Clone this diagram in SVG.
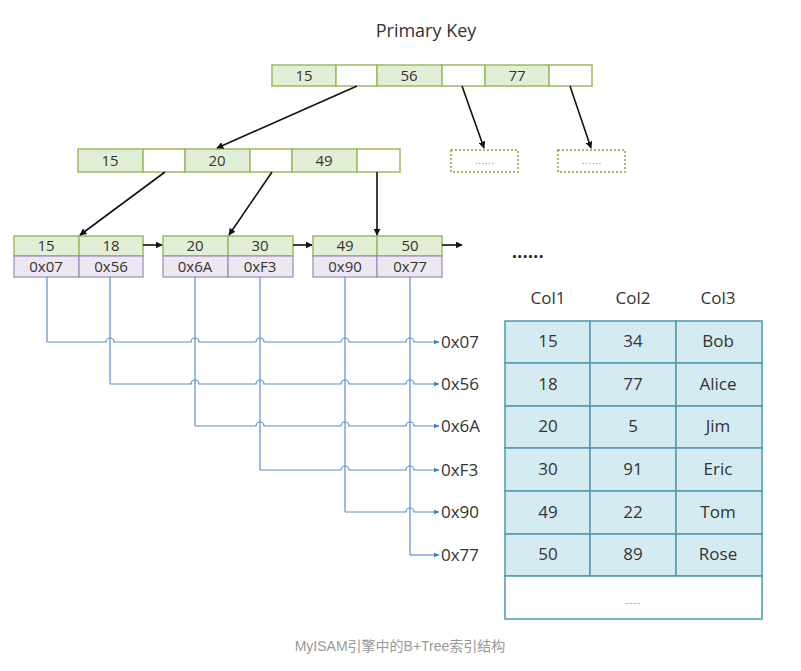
<svg xmlns="http://www.w3.org/2000/svg" width="801" height="671" viewBox="0 0 801 671">
<defs>
<marker id="ah" viewBox="0 0 10 10" refX="9" refY="5" markerWidth="7" markerHeight="7" markerUnits="userSpaceOnUse" orient="auto"><path d="M0,0 L10,5 L0,10 z" fill="#111"/></marker>
<marker id="ab" viewBox="0 0 10 10" refX="9" refY="5" markerWidth="6" markerHeight="6" markerUnits="userSpaceOnUse" orient="auto"><path d="M0,1 L10,5 L0,9 z" fill="#3f7fc0"/></marker>
<style>
text{font-family:"Open Sans","Liberation Sans",sans-serif;fill:#333;}
.k{fill:#e3eed6;stroke:#9cbb62;stroke-width:1.5}
.e{fill:#fff;stroke:#9cbb62;stroke-width:1.5}
.p{fill:#ede7f2;stroke:#9a8bbd;stroke-width:1.2}
.d{fill:#fff;stroke:#9cbb62;stroke-width:2;stroke-dasharray:2 2}
.t{font-size:15px;text-anchor:middle}
.a{stroke:#111;stroke-width:1.6;fill:none;marker-end:url(#ah)}
.b{stroke:#5b8fc9;stroke-width:1.2;fill:none}
.c{fill:#d5ebf2;stroke:#4e9ab0;stroke-width:1.5}
.px{font-size:17px}
.dd{font-size:9px;fill:#777;text-anchor:middle;letter-spacing:1px}
</style>
</defs>
<rect width="801" height="671" fill="#fff"/>
<text x="426" y="37" style="font-size:18px;text-anchor:middle">Primary Key</text>

<g id="root">
<rect class="k" x="272" y="65" width="64" height="21"/>
<rect class="e" x="336" y="65" width="41" height="21"/>
<rect class="k" x="377" y="65" width="65" height="21"/>
<rect class="e" x="442" y="65" width="43" height="21"/>
<rect class="k" x="485" y="65" width="64" height="21"/>
<rect class="e" x="549" y="65" width="43" height="21"/>
<text class="t" x="304" y="81">15</text>
<text class="t" x="409" y="81">56</text>
<text class="t" x="517" y="81">77</text>
</g>

<g id="inner">
<rect class="k" x="78" y="149" width="65" height="23"/>
<rect class="e" x="143" y="149" width="42" height="23"/>
<rect class="k" x="185" y="149" width="65" height="23"/>
<rect class="e" x="250" y="149" width="42" height="23"/>
<rect class="k" x="292" y="149" width="65" height="23"/>
<rect class="e" x="357" y="149" width="43" height="23"/>
<text class="t" x="110" y="166">15</text>
<text class="t" x="217" y="166">20</text>
<text class="t" x="324" y="166">49</text>
</g>

<g id="dash1">
<rect class="d" x="451" y="150" width="67" height="22"/>
<text class="dd" x="485" y="164">......</text>
</g>
<g id="dash2">
<rect class="d" x="558" y="150" width="67" height="22"/>
<text class="dd" x="592" y="164">......</text>
</g>

<g id="leaf1">
<rect class="k" x="14" y="236" width="65" height="20"/>
<rect class="k" x="79" y="236" width="64" height="20"/>
<rect class="p" x="14" y="256" width="65" height="21"/>
<rect class="p" x="79" y="256" width="64" height="21"/>
<text class="t" x="46" y="251">15</text>
<text class="t" x="111" y="251">18</text>
<text class="t" x="46" y="272">0x07</text>
<text class="t" x="111" y="272">0x56</text>
</g>
<g id="leaf2">
<rect class="k" x="163" y="236" width="65" height="20"/>
<rect class="k" x="228" y="236" width="65" height="20"/>
<rect class="p" x="163" y="256" width="65" height="21"/>
<rect class="p" x="228" y="256" width="65" height="21"/>
<text class="t" x="195" y="251">20</text>
<text class="t" x="260" y="251">30</text>
<text class="t" x="195" y="272">0x6A</text>
<text class="t" x="260" y="272">0xF3</text>
</g>
<g id="leaf3">
<rect class="k" x="313" y="236" width="64" height="20"/>
<rect class="k" x="377" y="236" width="65" height="20"/>
<rect class="p" x="313" y="256" width="64" height="21"/>
<rect class="p" x="377" y="256" width="65" height="21"/>
<text class="t" x="345" y="251">49</text>
<text class="t" x="410" y="251">50</text>
<text class="t" x="345" y="272">0x90</text>
<text class="t" x="410" y="272">0x77</text>
</g>

<text x="528" y="258" style="font-size:17px;font-weight:bold;text-anchor:middle;fill:#222;letter-spacing:0.5px">......</text>

<g id="connectors">
<line class="a" x1="357" y1="86" x2="217" y2="148"/>
<line class="a" x1="462" y1="86" x2="484" y2="148"/>
<line class="a" x1="570" y1="86" x2="591" y2="148"/>
<line class="a" x1="165" y1="172" x2="80" y2="235"/>
<line class="a" x1="272" y1="172" x2="229" y2="235"/>
<line class="a" x1="377" y1="172" x2="377" y2="235"/>
<line class="a" x1="143" y1="245" x2="162" y2="245"/>
<line class="a" x1="293" y1="245" x2="312" y2="245"/>
<line class="a" x1="442" y1="245" x2="462" y2="245"/>

<path class="b" d="M47,277 V342"/>
<path class="b" d="M110,277 V384"/>
<path class="b" d="M195,277 V426"/>
<path class="b" d="M260,277 V470"/>
<path class="b" d="M345,277 V512"/>
<path class="b" d="M410,277 V555"/>
<path class="b" marker-end="url(#ab)" d="M47,342 H106 a4,4 0 0 1 8,0 H191 a4,4 0 0 1 8,0 H256 a4,4 0 0 1 8,0 H341 a4,4 0 0 1 8,0 H406 a4,4 0 0 1 8,0 H439"/>
<path class="b" marker-end="url(#ab)" d="M110,384 H191 a4,4 0 0 1 8,0 H256 a4,4 0 0 1 8,0 H341 a4,4 0 0 1 8,0 H406 a4,4 0 0 1 8,0 H439"/>
<path class="b" marker-end="url(#ab)" d="M195,426 H256 a4,4 0 0 1 8,0 H341 a4,4 0 0 1 8,0 H406 a4,4 0 0 1 8,0 H439"/>
<path class="b" marker-end="url(#ab)" d="M260,470 H341 a4,4 0 0 1 8,0 H406 a4,4 0 0 1 8,0 H439"/>
<path class="b" marker-end="url(#ab)" d="M345,512 H406 a4,4 0 0 1 8,0 H439"/>
<path class="b" marker-end="url(#ab)" d="M410,555 H439"/>
</g>

<g id="addrs">
<text class="px" x="441" y="348">0x07</text>
<text class="px" x="441" y="390">0x56</text>
<text class="px" x="441" y="432">0x6A</text>
<text class="px" x="441" y="476">0xF3</text>
<text class="px" x="441" y="518">0x90</text>
<text class="px" x="441" y="561">0x77</text>
</g>

<g id="table">
<text class="px" x="548" y="304" text-anchor="middle">Col1</text>
<text class="px" x="633" y="304" text-anchor="middle">Col2</text>
<text class="px" x="718" y="304" text-anchor="middle">Col3</text>
<rect class="c" x="505" y="321" width="85" height="42"/>
<rect class="c" x="590" y="321" width="86" height="42"/>
<rect class="c" x="676" y="321" width="86" height="42"/>
<rect class="c" x="505" y="363" width="85" height="43"/>
<rect class="c" x="590" y="363" width="86" height="43"/>
<rect class="c" x="676" y="363" width="86" height="43"/>
<rect class="c" x="505" y="406" width="85" height="42"/>
<rect class="c" x="590" y="406" width="86" height="42"/>
<rect class="c" x="676" y="406" width="86" height="42"/>
<rect class="c" x="505" y="448" width="85" height="43"/>
<rect class="c" x="590" y="448" width="86" height="43"/>
<rect class="c" x="676" y="448" width="86" height="43"/>
<rect class="c" x="505" y="491" width="85" height="43"/>
<rect class="c" x="590" y="491" width="86" height="43"/>
<rect class="c" x="676" y="491" width="86" height="43"/>
<rect class="c" x="505" y="534" width="85" height="42"/>
<rect class="c" x="590" y="534" width="86" height="42"/>
<rect class="c" x="676" y="534" width="86" height="42"/>
<rect x="505" y="576" width="257" height="43" fill="#fff" stroke="#4e9ab0" stroke-width="1.5"/>
<g class="px" text-anchor="middle">
<text x="548" y="347">15</text><text x="633" y="347">34</text><text x="718" y="347">Bob</text>
<text x="548" y="390">18</text><text x="633" y="390">77</text><text x="718" y="390">Alice</text>
<text x="548" y="432">20</text><text x="633" y="432">5</text><text x="718" y="432">Jim</text>
<text x="548" y="475">30</text><text x="633" y="475">91</text><text x="718" y="475">Eric</text>
<text x="548" y="518">49</text><text x="633" y="518">22</text><text x="718" y="518">Tom</text>
<text x="548" y="560">50</text><text x="633" y="560">89</text><text x="718" y="560">Rose</text>
</g>
<text x="633" y="604" style="font-size:8px;text-anchor:middle;fill:#555;letter-spacing:0.5px">......</text>
</g>

<text x="400" y="651" style="font-family:'Liberation Sans','Noto Sans CJK SC',sans-serif;font-size:14px;fill:#999;text-anchor:middle">MyISAM引擎中的B+Tree索引结构</text>
</svg>
